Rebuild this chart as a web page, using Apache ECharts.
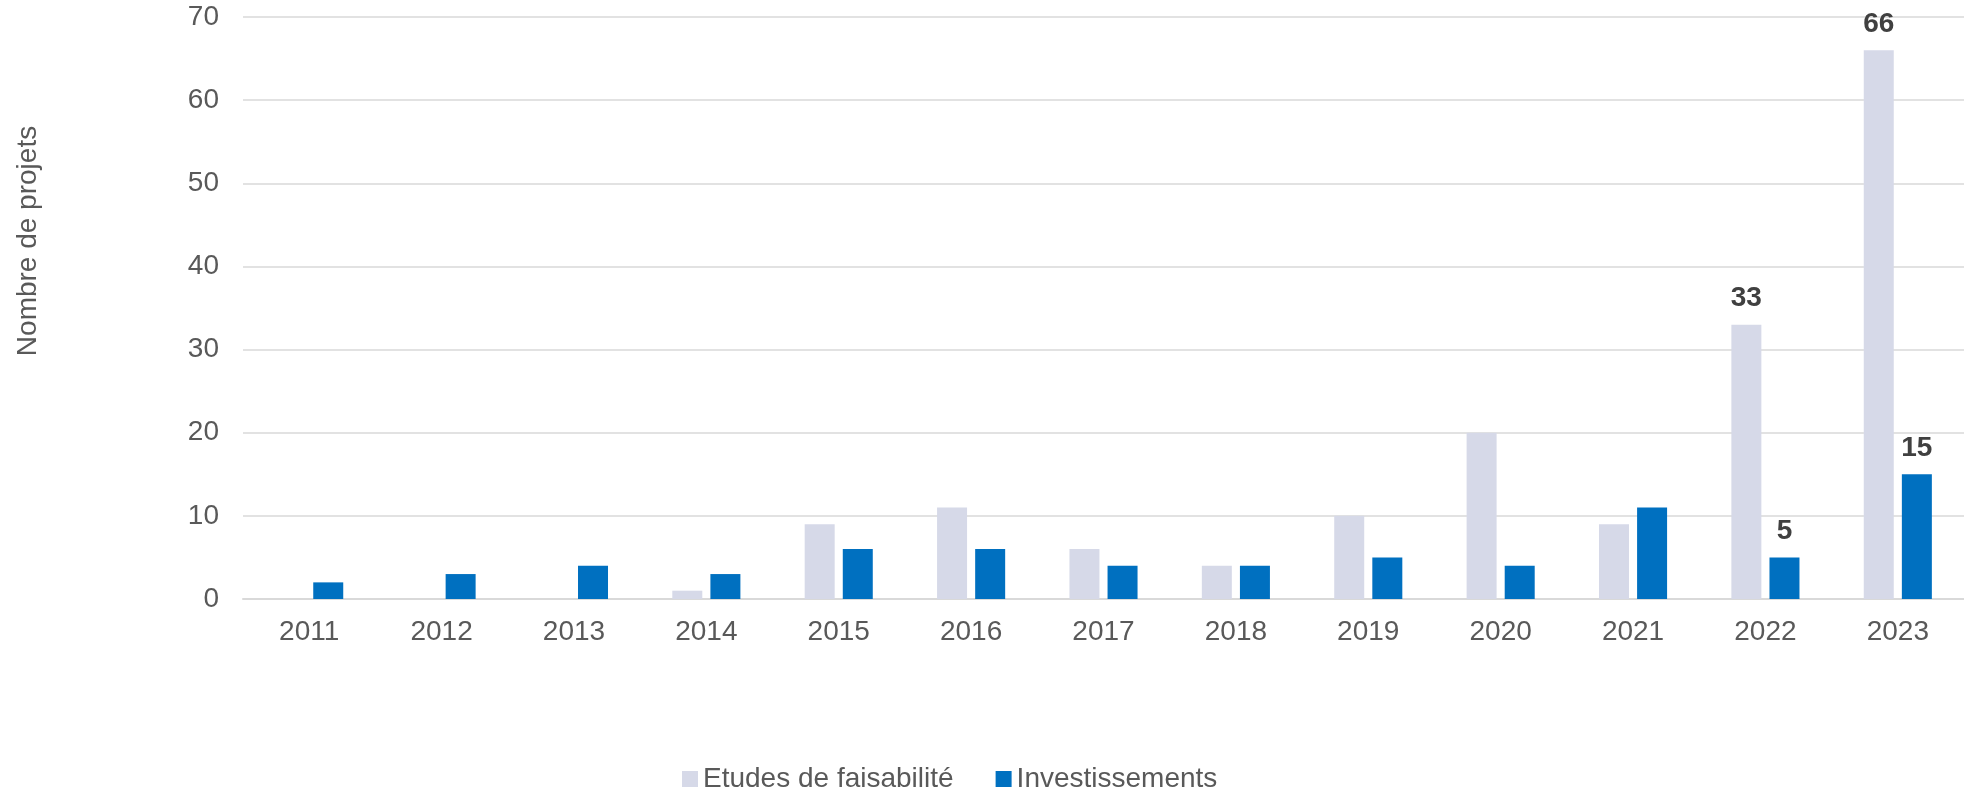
<!DOCTYPE html>
<html>
<head>
<meta charset="utf-8">
<script src="https://cdn.jsdelivr.net/npm/echarts@6/dist/echarts.min.js"></script>
<style>
  html, body { margin: 0; padding: 0; background: #fff; }
  #chart { width: 1964px; height: 793px; }
</style>
</head>
<body>
<div id="chart"></div>
<script>
// années
const years = ['2011', '2012', '2013', '2014', '2015', '2016', '2017', '2018', '2019', '2020', '2021', '2022', '2023'];
// Etudes de faisabilité
const etudes = [0, 0, 0, 1, 9, 11, 6, 4, 10, 20, 9, 33, 66];
// Investissements
const investissements = [2, 3, 4, 3, 6, 6, 4, 4, 5, 4, 11, 5, 15];
// années avec étiquette de valeur
const labeledYears = ['2022', '2023'];

const FONT = '"Liberation Sans", Arial, sans-serif';
const TEXT = '#595959';

// n'afficher la valeur que pour les dernières années
function withLabels(values) {
  return values.map((v, i) => ({
    value: v,
    label: { show: labeledYears.indexOf(years[i]) !== -1 }
  }));
}

const chart = echarts.init(document.getElementById('chart'));

chart.setOption({
  animation: false,
  textStyle: { fontFamily: FONT },
  grid: { left: 243, right: 0, top: 17, bottom: 194, containLabel: false },
  legend: {
    left: 677,
    top: 760,
    itemWidth: 16,
    itemHeight: 16,
    itemGap: 42,
    icon: 'rect',
    textStyle: { fontFamily: FONT, fontSize: 28, color: TEXT },
    data: ['Etudes de faisabilité', 'Investissements']
  },
  graphic: [{
    type: 'text',
    x: 28,
    y: 241,
    rotation: Math.PI / 2,
    style: {
      text: 'Nombre de projets',
      font: '28px ' + FONT,
      fill: TEXT,
      align: 'center',
      verticalAlign: 'middle'
    }
  }],
  xAxis: {
    type: 'category',
    data: years,
    axisTick: { show: false },
    axisLine: { lineStyle: { color: '#D9D9D9', width: 2 } },
    axisLabel: { fontSize: 28, color: TEXT, margin: 19, fontFamily: FONT }
  },
  yAxis: {
    type: 'value',
    min: 0,
    max: 70,
    interval: 10,
    axisLine: { show: false },
    axisTick: { show: false },
    axisLabel: { fontSize: 28, color: TEXT, margin: 24, fontFamily: FONT },
    splitLine: { lineStyle: { color: '#D9D9D9', width: 1.5 } }
  },
  series: [
    {
      name: 'Etudes de faisabilité',
      type: 'bar',
      barWidth: 30,
      barGap: '27%',
      itemStyle: { color: '#D6D9E8' },
      label: { position: 'top', distance: 12, fontSize: 28, fontWeight: 'bold', color: '#404040', fontFamily: FONT },
      data: withLabels(etudes)
    },
    {
      name: 'Investissements',
      type: 'bar',
      barWidth: 30,
      barGap: '27%',
      itemStyle: { color: '#0070C0' },
      label: { position: 'top', distance: 12, fontSize: 28, fontWeight: 'bold', color: '#404040', fontFamily: FONT },
      data: withLabels(investissements)
    }
  ]
});
</script>
</body>
</html>
